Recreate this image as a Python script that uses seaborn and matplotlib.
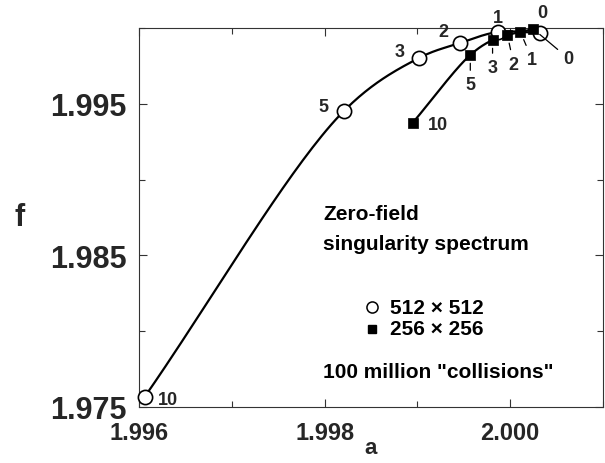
import numpy as np
import pandas as pd
import matplotlib
matplotlib.use("Agg")
import matplotlib.pyplot as plt
import seaborn as sns
from matplotlib.ticker import MultipleLocator, FormatStrFormatter

# ---- data ----
q_512 = ["10", "5", "3", "2", "1", "0"]
a_512 = [1.99606, 1.99821, 1.99902, 1.99946, 1.99987, 2.00032]
f_512 = [1.97566, 1.99454, 1.99803, 1.99901, 1.99974, 1.99967]

q_256 = ["10", "5", "3", "2", "1", "0"]
a_256 = [1.99895, 1.99957, 1.99981, 1.99997, 2.00011, 2.00025]
f_256 = [1.99375, 1.99822, 1.99921, 1.99954, 1.99974, 1.99993]

x_ticks = [1.996, 1.998, 2.000]
y_ticks = [1.975, 1.985, 1.995]

sns.set_theme(style="ticks")
plt.rcParams['font.family'] = ['Liberation Sans', 'DejaVu Sans']

W, H = 605, 464
L, R, T, B = 139, 603, 29, 408
fig = plt.figure(figsize=(W/100, H/100), dpi=100)
ax = fig.add_axes([L/W, 1-B/H, (R-L)/W, (B-T)/H])
XMIN, XMAX, YMIN, YMAX = 1.996, 2.001, 1.975, 2.000
ax.set_xlim(XMIN, XMAX)
ax.set_ylim(YMIN, YMAX)


def smooth(x, y, n=40, alpha=0.5):
    # centripetal Catmull-Rom curve through the measured points (screen-scaled)
    sx = (R-L)/(XMAX-XMIN); sy = (B-T)/(YMAX-YMIN)
    P = np.column_stack([np.asarray(x)*sx, np.asarray(y)*sy])
    P = np.vstack([2*P[0]-P[1], P, 2*P[-1]-P[-2]])
    out = []
    for i in range(1, len(P)-2):
        p0, p1, p2, p3 = P[i-1], P[i], P[i+1], P[i+2]
        t0 = 0.0
        t1 = t0 + np.linalg.norm(p1-p0)**alpha
        t2 = t1 + np.linalg.norm(p2-p1)**alpha
        t3 = t2 + np.linalg.norm(p3-p2)**alpha
        t = np.linspace(t1, t2, n)[:, None]
        A1 = (t1-t)/(t1-t0)*p0 + (t-t0)/(t1-t0)*p1
        A2 = (t2-t)/(t2-t1)*p1 + (t-t1)/(t2-t1)*p2
        A3 = (t3-t)/(t3-t2)*p2 + (t-t2)/(t3-t2)*p3
        B1 = (t2-t)/(t2-t0)*A1 + (t-t0)/(t2-t0)*A2
        B2 = (t3-t)/(t3-t1)*A2 + (t-t1)/(t3-t1)*A3
        C = (t2-t)/(t2-t1)*B1 + (t-t1)/(t2-t1)*B2
        out.append(C)
    C = np.vstack(out)
    return C[:, 0]/sx, C[:, 1]/sy


cx, cy = smooth(a_512, f_512)
ax.plot(cx, cy, color="black", lw=1.6, zorder=2, clip_on=False)
sx_, sy_ = smooth(a_256, f_256)
ax.plot(sx_, sy_, color="black", lw=1.6, zorder=2, clip_on=False)

df512 = pd.DataFrame({"a": a_512, "f": f_512})
df256 = pd.DataFrame({"a": a_256, "f": f_256})
sns.scatterplot(data=df512, x="a", y="f", ax=ax, marker="o", s=105,
                facecolor="white", edgecolor="black", linewidth=1.2, zorder=3,
                clip_on=False)
sns.scatterplot(data=df256, x="a", y="f", ax=ax, marker="s", s=45,
                color="black", edgecolor="black", linewidth=0.5, zorder=4,
                clip_on=False)

lab_kw = dict(fontsize=13, fontweight="bold", ha="center", va="center",
              textcoords="offset points")
# labels for 512 circles (offsets in points)
off512 = [(17, -1.5), (-15, 3), (-14, 4.5), (-12, 8), (0, 10.5), (1.5, 14.5)]
for q, a, f, o in zip(q_512, a_512, f_512, off512):
    ax.annotate(q, (a, f), xytext=o, **lab_kw, zorder=5, annotation_clip=False)
# labels for 256 squares with leader lines
off256 = [(18, -1), (0, -21.5), (0, -20), (4.5, -21), (8.5, -20), (25, -21)]
for i, (q, a, f, o) in enumerate(zip(q_256, a_256, f_256, off256)):
    if i == 0:
        ax.annotate(q, (a, f), xytext=o, **lab_kw, zorder=5)
    else:
        ax.annotate(q, (a, f), xytext=o, **lab_kw, zorder=5, annotation_clip=False,
                    arrowprops=dict(arrowstyle="-", color="black", lw=0.9,
                                    shrinkA=2, shrinkB=6))

ax.set_xticks(x_ticks)
ax.set_yticks(y_ticks)
ax.xaxis.set_major_formatter(FormatStrFormatter("%.3f"))
ax.yaxis.set_major_formatter(FormatStrFormatter("%.3f"))
ax.xaxis.set_minor_locator(MultipleLocator(0.001))
ax.yaxis.set_minor_locator(MultipleLocator(0.005))
ax.tick_params(which="both", direction="in", top=True, right=True)
ax.tick_params(which="major", length=6, width=0.8, color="#333333")
ax.tick_params(which="minor", length=4, width=0.8, color="#333333")
ax.tick_params(axis="y", labelsize=22, pad=9)
ax.tick_params(axis="x", labelsize=17, pad=10)
for lbl in ax.get_xticklabels() + ax.get_yticklabels():
    lbl.set_fontweight("bold")
for sp in ax.spines.values():
    sp.set_linewidth(0.8)
    sp.set_color("#333333")

ax.set_xlabel("a", fontsize=16, fontweight="bold", labelpad=-5)
ax.set_ylabel("f", fontsize=22, fontweight="bold", rotation=0, labelpad=22, va="center")


def tx(px):
    return (px - L) / (R - L)


def ty(py):
    return 1 - (py - T) / (B - T)


tkw = dict(transform=ax.transAxes, fontsize=15, fontweight="bold", color="black",
           va="center")
ax.text(tx(323), ty(215), "Zero-field", ha="left", **tkw)
ax.text(tx(323), ty(245), "singularity spectrum", ha="left", **tkw)
ax.text(tx(390), ty(308), "512 × 512", ha="left", **tkw)
ax.text(tx(390), ty(330), "256 × 256", ha="left", **tkw)
ax.text(tx(323), ty(373), '100 million "collisions"', ha="left", **tkw)
ax.plot([tx(372)], [ty(308)], marker="o", ms=8, mfc="white", mec="black",
        mew=1.1, transform=ax.transAxes, clip_on=False)
ax.plot([tx(372)], [ty(330)], marker="s", ms=6, color="black",
        transform=ax.transAxes, clip_on=False)

fig.savefig("out.png", dpi=100)
